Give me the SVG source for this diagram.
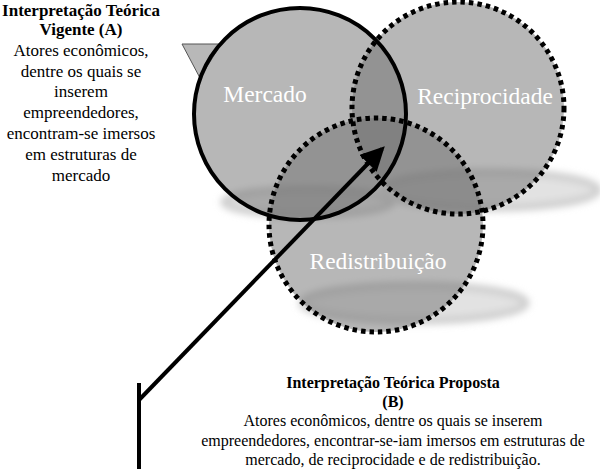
<svg xmlns="http://www.w3.org/2000/svg" width="600" height="469" viewBox="0 0 600 469">
<style>
.lbl{font-family:"Liberation Serif","Times New Roman",serif;fill:#fff;font-size:23.5px;text-anchor:middle}
.txt{font-family:"Liberation Serif","Times New Roman",serif;fill:#000;font-size:17px;text-anchor:middle}
.tb{font-family:"Liberation Serif","Times New Roman",serif;fill:#000;font-size:16px;text-anchor:middle}
.b{font-weight:bold}
.circ{fill:#707070;fill-opacity:0.5}
.dot{fill:none;stroke:#000;stroke-width:5;stroke-dasharray:4.5 4}
.shadow{fill:#e2e2e2;stroke:#cdcdcd;stroke-width:7;filter:url(#blur)}
</style>
<defs>
<filter id="blur" x="-20%" y="-60%" width="140%" height="220%"><feGaussianBlur stdDeviation="3.5"/></filter>
<marker id="ah" markerWidth="6" markerHeight="6" refX="5" refY="3" orient="auto" markerUnits="strokeWidth">
<path d="M0,0 L6,3 L0,6 z" fill="#000"/>
</marker>
</defs>
<g id="shadows">
<ellipse class="shadow" cx="308" cy="202" rx="84" ry="13"/>
<ellipse class="shadow" cx="490" cy="190" rx="108" ry="18"/>
<ellipse class="shadow" cx="414" cy="303" rx="112" ry="18"/>
</g>
<g id="callout">
<path d="M182,44 L221,44 L200,78 Z" fill="#b8b8b8" stroke="#555" stroke-width="1"/>
</g>
<g id="mercado">
<circle class="circ" cx="300" cy="114" r="106"/>
</g>
<g id="reciprocidade">
<circle class="circ" cx="458" cy="108" r="106"/>
</g>
<g id="redistribuicao">
<circle class="circ" cx="376" cy="225" r="107"/>
</g>
<g id="outlines">
<circle cx="300" cy="114" r="106" fill="none" stroke="#000" stroke-width="4"/>
<circle class="dot" cx="458" cy="108" r="106"/>
<circle class="dot" cx="376" cy="225" r="107"/>
</g>
<g id="labels">
<text class="lbl" x="265" y="102">Mercado</text>
<text class="lbl" x="485" y="104">Reciprocidade</text>
<text class="lbl" x="378" y="269">Redistribuição</text>
</g>
<g id="connectors">
<line x1="139" y1="383" x2="139" y2="469" stroke="#000" stroke-width="4"/>
<line x1="139" y1="400" x2="382" y2="149" stroke="#000" stroke-width="4" marker-end="url(#ah)"/>
</g>
<g id="textA">
<text class="txt b" x="81" y="16">Interpretação Teórica</text>
<text class="txt b" x="81" y="35">Vigente (A)</text>
<text class="txt" x="81" y="56">Atores econômicos,</text>
<text class="txt" x="81" y="77">dentre os quais se</text>
<text class="txt" x="81" y="97">inserem</text>
<text class="txt" x="81" y="118">empreendedores,</text>
<text class="txt" x="81" y="139">encontram-se imersos</text>
<text class="txt" x="81" y="160">em estruturas de</text>
<text class="txt" x="81" y="181">mercado</text>
</g>
<g id="textB">
<text class="tb b" x="393" y="388">Interpretação Teórica Proposta</text>
<text class="tb b" x="393" y="407">(B)</text>
<text class="tb" x="393" y="426">Atores econômicos, dentre os quais se inserem</text>
<text class="tb" x="393" y="446">empreendedores, encontrar-se-iam imersos em estruturas de</text>
<text class="tb" x="393" y="465">mercado, de reciprocidade e de redistribuição.</text>
</g>
</svg>
